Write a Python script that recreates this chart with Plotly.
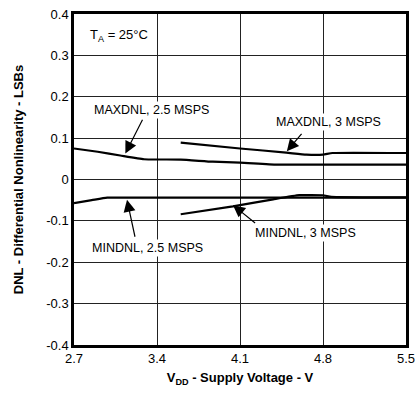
import plotly.graph_objects as go

# supply voltage (V) and DNL (LSBs)
vdd_max25 = [2.7, 2.9, 3.09, 3.29, 3.6, 3.87, 4.1, 4.41, 4.8, 5.5]
dnl_max25 = [0.075, 0.067, 0.058, 0.049, 0.048, 0.043, 0.041, 0.036, 0.036, 0.036]

vdd_max3 = [3.6, 4.1, 4.49, 4.66, 4.8, 4.88, 5.5]
dnl_max3 = [0.089, 0.075, 0.065, 0.060, 0.060, 0.064, 0.064]

vdd_min25 = [2.7, 2.85, 2.98, 3.4, 4.1, 4.8, 5.5]
dnl_min25 = [-0.057, -0.050, -0.044, -0.044, -0.044, -0.044, -0.044]

vdd_min3 = [3.6, 4.04, 4.38, 4.6, 4.8, 4.87, 5.5]
dnl_min3 = [-0.084, -0.065, -0.048, -0.038, -0.038, -0.042, -0.043]

x_ticks = [2.7, 3.4, 4.1, 4.8, 5.5]
y_ticks = [-0.4, -0.3, -0.2, -0.1, 0, 0.1, 0.2, 0.3, 0.4]
y_ticktext = ["-0.4", "-0.3", "-0.2", "-0.1", "0", "0.1", "0.2", "0.3", "0.4"]

FONT = "Liberation Sans, Arial, sans-serif"

fig = go.Figure()
for xs, ys in [(vdd_max25, dnl_max25), (vdd_max3, dnl_max3),
               (vdd_min25, dnl_min25), (vdd_min3, dnl_min3)]:
    fig.add_trace(go.Scatter(x=xs, y=ys, mode="lines",
                             line=dict(color="black", width=2.2, shape="spline", smoothing=0.4),
                             showlegend=False, hoverinfo="skip"))

# labels: (text, x, y)
labels = [
    ("MAXDNL, 2.5 MSPS", 3.35, 0.167),
    ("MAXDNL, 3 MSPS", 4.848, 0.138),
    ("MINDNL, 2.5 MSPS", 3.32, -0.166),
    ("MINDNL, 3 MSPS", 4.655, -0.130),
]
# arrows: (tail x, tail y, head x, head y)
arrows = [
    (3.284, 0.148, 3.133, 0.063),
    (4.630, 0.114, 4.495, 0.068),
    (3.217, -0.142, 3.147, -0.049),
    (4.240, -0.108, 4.041, -0.062),
]

ann = []
for t, x, y in labels:
    ann.append(dict(text=t, x=x, y=y, xref="x", yref="y", showarrow=False,
                    font=dict(size=12.5, color="black", family=FONT), bgcolor="white"))
for tx, ty, hx, hy in arrows:
    ann.append(dict(text="", x=hx, y=hy, xref="x", yref="y", ax=tx, ay=ty,
                    axref="x", ayref="y", showarrow=True, arrowhead=2,
                    arrowsize=2, arrowwidth=1.2, arrowcolor="black"))
ann.append(dict(text="T<sub>A</sub> = 25°C", x=2.822, y=0.348, xref="x", yref="y",
                xanchor="left", showarrow=False,
                font=dict(size=13, color="black", family=FONT)))

fig.update_layout(
    width=420, height=399,
    margin=dict(l=73.5, r=13.5, t=13.5, b=54, autoexpand=False),
    plot_bgcolor="white", paper_bgcolor="white",
    font=dict(family=FONT, size=13, color="black"),
    annotations=ann,
    xaxis=dict(range=[2.7, 5.5], tickvals=x_ticks, ticktext=[f"{v:.1f}" for v in x_ticks],
               showgrid=True, gridcolor="#222", gridwidth=1, zeroline=False, automargin=False,
               showline=True, linecolor="black", linewidth=2.5, mirror=True, ticks="",
               title=dict(text="<b>V<sub>DD</sub> - Supply Voltage - V</b>", standoff=8,
                          font=dict(size=13))),
    yaxis=dict(range=[-0.4, 0.4], tickvals=y_ticks, ticktext=y_ticktext,
               showgrid=True, gridcolor="#222", gridwidth=1, zeroline=False, automargin=False,
               showline=True, linecolor="black", linewidth=2.5, mirror=True, ticks="",
               title=dict(text="<b>DNL - Differential Nonlinearity - LSBs</b>", standoff=20,
                          font=dict(size=13))),
)

# drop the browser's default 8px body margin so the 420x399 figure fills the window
fig.write_html("out.html", config={"displayModeBar": False},
               post_script="document.body.style.margin='0';document.body.style.overflow='hidden';")
